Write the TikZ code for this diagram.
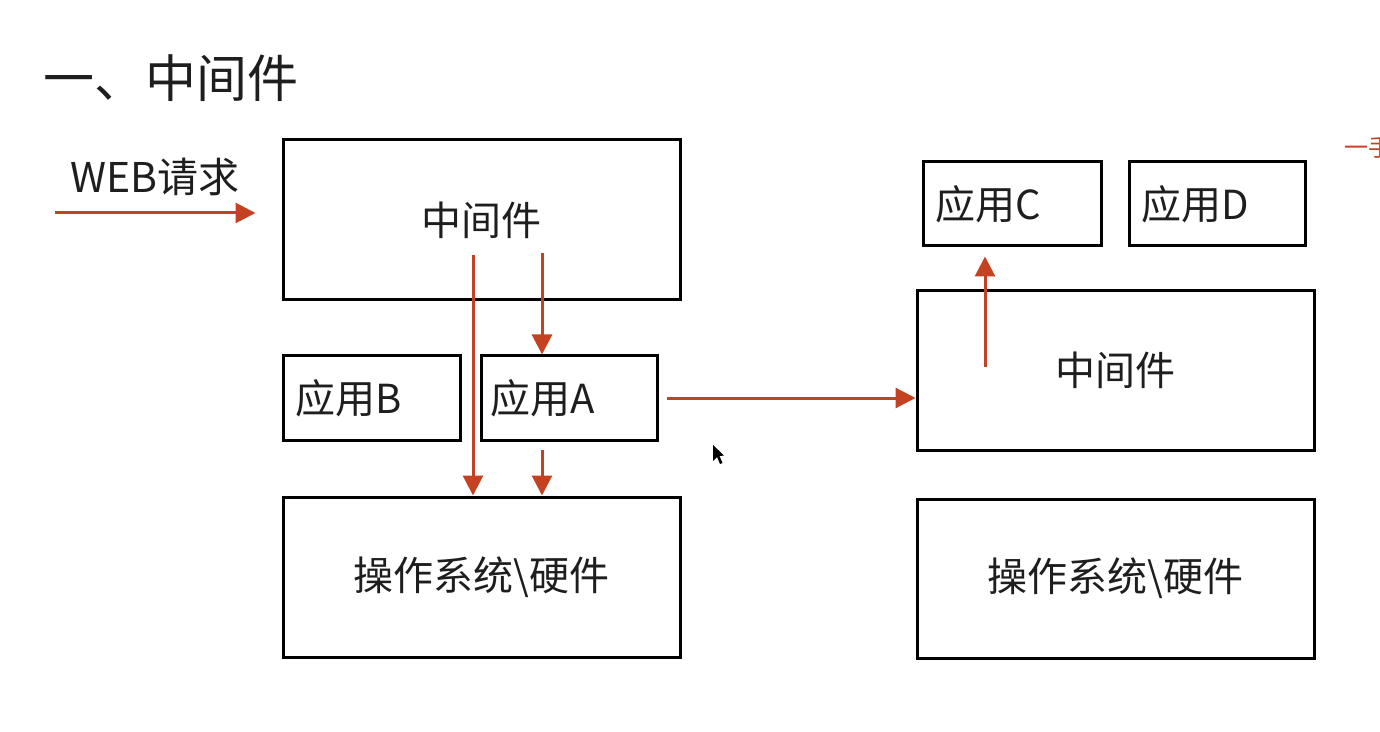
\documentclass[tikz,border=0pt]{standalone}
\usepackage{fontspec}
\setmainfont{Noto Sans CJK SC}
\usetikzlibrary{arrows.meta}
\usetikzlibrary{calc}
\definecolor{arrowred}{RGB}{196,66,34}
\definecolor{inkgray}{RGB}{30,30,30}

\begin{document}
\begin{tikzpicture}[x=0.5pt,y=-0.5pt,
    box/.style={draw=black,line width=1.5pt,text=inkgray,font=\fontsize{20pt}{24pt}\selectfont,inner sep=0pt},
    bigbox/.style={box,minimum width=198.5pt,minimum height=80pt},
    appbox/.style={box,minimum height=42pt,align=left,inner xsep=6pt},
    flow/.style={draw=arrowred,line width=1.5pt,-{Triangle[length=10pt,width=10pt]}}
  ]
  \useasboundingbox (0,0) rectangle (1380,732);
  \node[anchor=west,text=inkgray,font=\fontsize{25.5pt}{30pt}\selectfont] (title) at (36,78) {一、中间件};
  \node[anchor=west,text=arrowred,font=\fontsize{12pt}{14pt}\selectfont] (cut) at (1337,147) {一手};

  % left side
  \node[anchor=center,text=inkgray,font=\fontsize{20.5pt}{24pt}\selectfont] (web) at (155,177) {WEB请求};
  \node[bigbox] (mwL) at (481.5,220) {中间件};
  \node[appbox,text width=76.5pt] (appB) at (371.5,398) {应用B};
  \node[appbox,text width=79pt,inner xsep=4.5pt] (appA) at (569,398) {应用A};
  \node[bigbox] (osL) at (481.5,577) {操作系统\textbackslash 硬件};

  % right side
  \node[appbox,text width=77pt] (appC) at (1012,204) {应用C};
  \node[appbox,text width=76pt] (appD) at (1217,204) {应用D};
  \node[bigbox,minimum height=79.5pt] (mwR) at (1115.5,370.5) {中间件};
  \node[bigbox,minimum height=79.5pt] (osR) at (1115.5,578.5) {操作系统\textbackslash 硬件};

  \coordinate (webin) at (55,213);
  \coordinate (s1) at (473,255);
  \coordinate (s2) at (542,253);
  \coordinate (s3) at (542,450);
  \coordinate (s4) at (985,367);

  \draw[flow] (webin) -- ([xshift=-13pt]mwL.west |- webin);
  \draw[flow] (s1) -- (s1 |- osL.north);
  \draw[flow] (s2) -- (s2 |- appA.north);
  \draw[flow] (s3) -- (s3 |- osL.north);
  \draw[flow] ([xshift=4pt]appA.east) -- (appA.east -| mwR.west);
  \draw[flow,shorten >=4.5pt] (s4) -- (s4 |- appC.south);

  % mouse pointer
  \fill[black] (713,445) -- (713,461) -- (717,457) -- (720,464) -- (722.5,463) -- (719.5,456) -- (724,455.5) -- cycle;
\end{tikzpicture}
\end{document}
